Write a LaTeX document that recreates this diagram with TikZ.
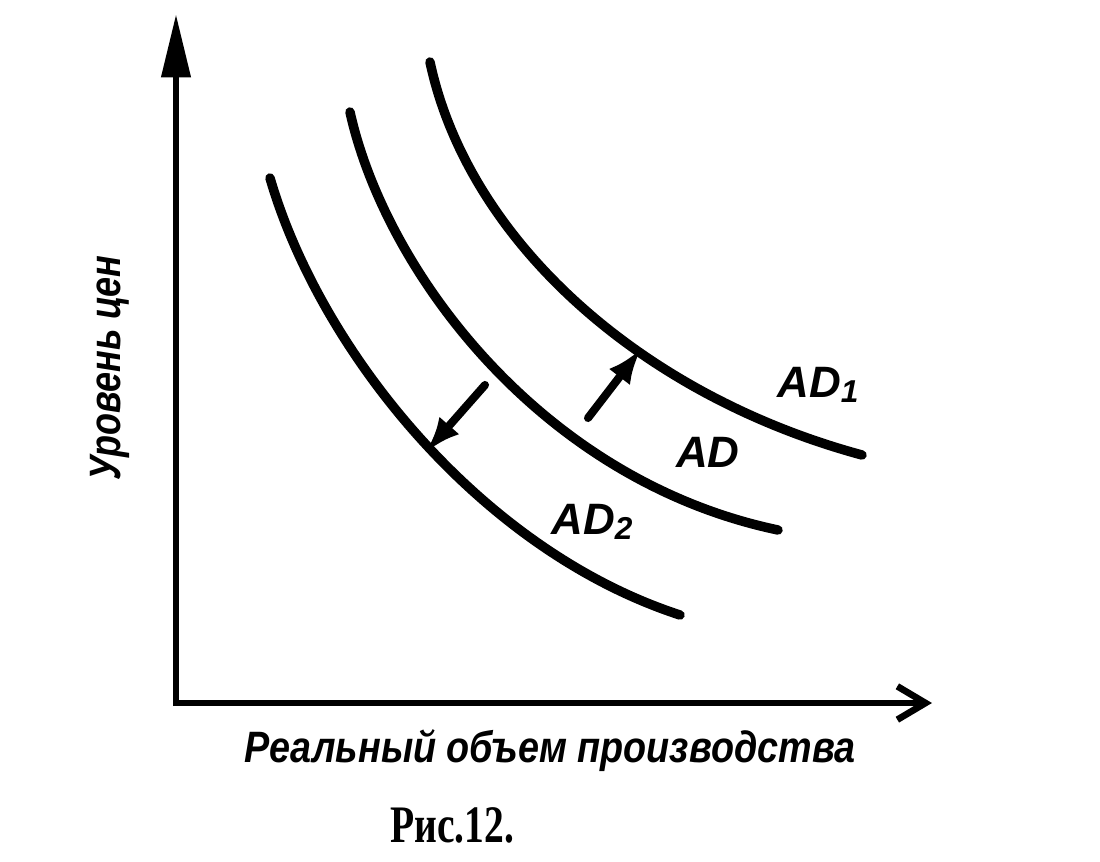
\documentclass[tikz,border=0pt]{standalone}
\usepackage{fontspec}
\newfontfamily\labfont{Liberation Sans}
\newfontfamily\capfont{Liberation Serif}
\usetikzlibrary{arrows.meta}
\begin{document}
\begin{tikzpicture}[x=0.02cm,y=-0.02cm,
 curve/.style={line width=5.4pt,line cap=round},
 axis/.style={line width=3.8pt},
 shiftarrow/.style={line width=4.6pt,line cap=round,-{Latex[length=20pt,width=15pt]}},
 lbl/.style={font=\labfont\bfseries\itshape\fontsize{25}{25}\selectfont,inner sep=0pt},
 axlbl/.style={font=\labfont\bfseries\itshape\fontsize{25}{25}\selectfont,inner sep=0pt},
 caption/.style={font=\capfont\bfseries\fontsize{30}{30}\selectfont,inner sep=0pt}]
\useasboundingbox (0,0) rectangle (1100,862);
% axes
\coordinate (O) at (176,703);
\coordinate (ytop) at (176,14);
\coordinate (xend) at (932,703);
\draw[axis,-{Triangle[length=36pt,width=16pt]}] (176,706) -- (ytop);
\draw[axis,-{Straight Barb[length=16pt,width=19pt]}] (173,703) -- (xend);
% curves
\draw[curve] (270,178) .. controls (320,350) and (480,550) .. (680,615);
\draw[curve] (350,112) .. controls (385,270) and (540,480) .. (778,530);
\draw[curve] (430,62) .. controls (468,240) and (640,395) .. (862,455);
% shift arrows
\coordinate (d1) at (485,385);
\coordinate (d2) at (426,452);
\coordinate (u1) at (588,418);
\coordinate (u2) at (641,349);
\draw[shiftarrow] (d1) -- (d2);
\draw[shiftarrow] (u1) -- (u2);
% labels
\node[lbl] (ad1) at (818,385) {AD{\fontsize{18}{18}\selectfont\raisebox{-3pt}{1}}};
\node[lbl] (ad) at (708,452) {AD};
\node[lbl] (ad2) at (592,522) {AD{\fontsize{18}{18}\selectfont\raisebox{-3pt}{2}}};
\node[axlbl,rotate=90] (ylab) at (110,368) {\scalebox{0.82}[1]{Уровень цен}};
\node[axlbl] (xlab) at (550,751) {\scalebox{0.86}[1]{Реальный объем производства}};
\node[caption] (cap) at (452,825) {\scalebox{0.75}[1]{Рис.12.}};
\end{tikzpicture}
\end{document}
